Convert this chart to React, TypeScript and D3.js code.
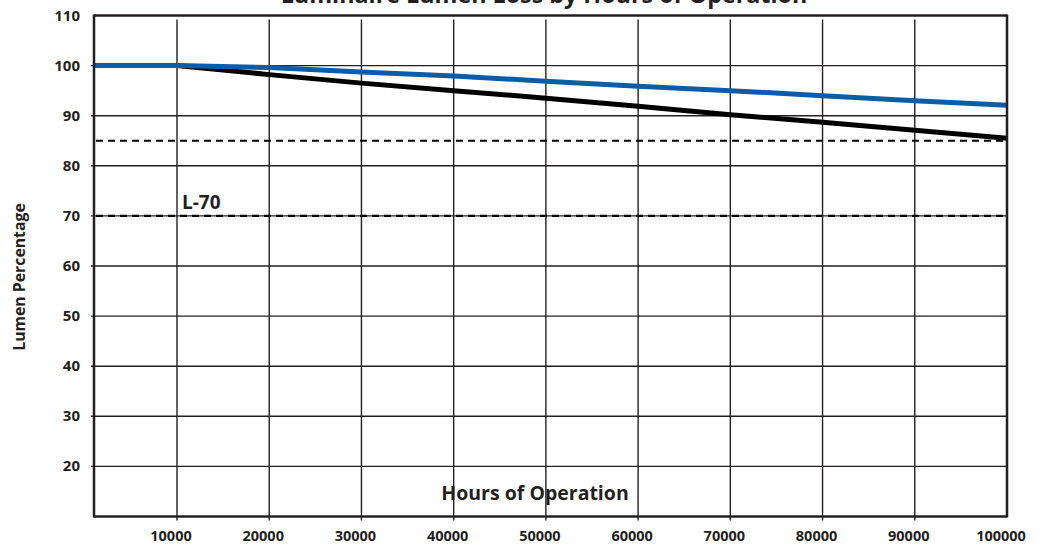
import React from "react";
import * as d3 from "d3";

const hours = [1000, 10000, 20000, 30000, 40000, 50000, 60000, 70000, 80000, 90000, 100000];
const blueSeries = [100, 100, 99.6, 98.7, 97.9, 96.9, 95.9, 95.0, 94.0, 93.0, 92.1];
const blackSeries = [100, 100, 98.2, 96.5, 95.0, 93.5, 91.9, 90.2, 88.7, 87.1, 85.5];
const xTicks = [10000, 20000, 30000, 40000, 50000, 60000, 70000, 80000, 90000, 100000];
const yTicks = [110, 100, 90, 80, 70, 60, 50, 40, 30, 20];
const dashedLevels = [85, 70];
const title = "Luminaire Lumen Loss by Hours of Operation";
const xLabel = "Hours of Operation";
const yLabel = "Lumen Percentage";
const l70Label = "L-70";

const W = 1044;
const H = 544;
const left = 94;
const right = 1007;
const top = 15.5;
const bottom = 516.5;
const FONT = "'Open Sans', Lato, sans-serif";

export default function App() {
  const x = d3.scaleLinear().domain([1000, 100000]).range([left, right]);
  const y = d3.scaleLinear().domain([10, 110]).range([bottom, top]);
  const line = d3
    .line<number>()
    .x((_, i) => x(hours[i]))
    .y((d) => y(d));

  return (
    <svg
      width={W}
      height={H}
      style={{ position: "absolute", left: 0, top: 0, background: "#fff" }}
      fontFamily={FONT}
    >
      <rect x={0} y={0} width={W} height={H} fill="#fff" />
      {/* title (cut at the top, as in the reference) */}
      <text x={544} y={3} textAnchor="middle" fontSize={23.3} fontWeight={700} fill="#231f20">
        {title}
      </text>
      {/* horizontal gridlines */}
      {yTicks.slice(1).map((t) => (
        <line key={"h" + t} x1={left - 3} x2={right} y1={y(t)} y2={y(t)} stroke="#231f20" strokeWidth={1.4} />
      ))}
      {/* vertical gridlines */}
      {xTicks.slice(0, -1).map((t) => (
        <line key={"v" + t} x1={x(t)} x2={x(t)} y1={top + 4} y2={bottom + 4} stroke="#231f20" strokeWidth={1.4} />
      ))}
      {/* dashed reference lines */}
      {dashedLevels.map((lv) => (
        <line
          key={"d" + lv}
          x1={left + 2}
          x2={right}
          y1={y(lv)}
          y2={y(lv)}
          stroke="#000"
          strokeWidth={2.2}
          strokeDasharray="7,5"
        />
      ))}
      {/* series */}
      <path d={line(blackSeries) || ""} fill="none" stroke="#000" strokeWidth={5} />
      <path d={line(blueSeries) || ""} fill="none" stroke="#0a5dab" strokeWidth={5} />
      {/* frame */}
      <line x1={left} x2={right} y1={top} y2={top} stroke="#231f20" strokeWidth={2.5} />
      <line x1={left} x2={right} y1={bottom} y2={bottom} stroke="#231f20" strokeWidth={2.5} />
      <line x1={left} x2={left} y1={top - 1} y2={bottom + 1} stroke="#231f20" strokeWidth={2.5} />
      <line x1={right} x2={right} y1={top - 1} y2={bottom + 1} stroke="#231f20" strokeWidth={2.5} />
      {/* y tick labels */}
      {yTicks.map((t) => (
        <text key={"yt" + t} x={80} y={y(t) + 5} textAnchor="end" fontSize={15} fontWeight={700} fill="#231f20">
          {t}
        </text>
      ))}
      {/* x tick labels */}
      {xTicks.map((t) => (
        <text key={"xt" + t} x={x(t) - 6} y={541} textAnchor="middle" fontSize={14.5} fontWeight={700} fill="#231f20">
          {t}
        </text>
      ))}
      {/* L-70 label */}
      <text x={182} y={209} fontSize={19} fontWeight={700} fill="#231f20">
        {l70Label}
      </text>
      {/* x axis title */}
      <text x={535} y={500} textAnchor="middle" fontSize={19.5} fontWeight={700} fill="#231f20">
        {xLabel}
      </text>
      {/* y axis title */}
      <text
        transform={`translate(25, 277) rotate(-90)`}
        textAnchor="middle"
        fontSize={15.8}
        fontWeight={700}
        fill="#231f20"
      >
        {yLabel}
      </text>
    </svg>
  );
}
